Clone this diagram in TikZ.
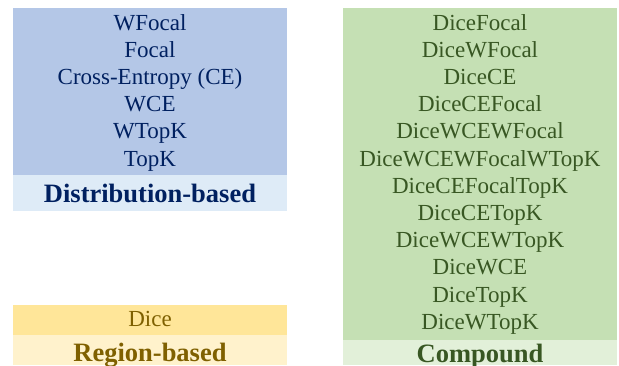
\documentclass[tikz,border=0pt]{standalone}
\usepackage{fontspec}
\setmainfont{Liberation Serif}
\definecolor{bluedark}{HTML}{B4C7E7}
\definecolor{bluelight}{HTML}{DEEBF7}
\definecolor{bluetext}{HTML}{002060}
\definecolor{greendark}{HTML}{C5E0B4}
\definecolor{greenlight}{HTML}{E2F0D9}
\definecolor{greentext}{HTML}{385723}
\definecolor{yellowdark}{HTML}{FFE699}
\definecolor{yellowlight}{HTML}{FFF2CC}
\definecolor{yellowtext}{HTML}{7F6000}
\tikzset{
  item/.style={anchor=base, inner sep=0pt, font=\fontsize{23}{27}\selectfont},
  catlabel/.style={anchor=base, inner sep=0pt, font=\fontsize{26.5}{30}\selectfont\bfseries},
}
\begin{document}
\begin{tikzpicture}[x=1pt,y=-1pt]
\clip (0,0) rectangle (619,365);
% distribution-based
\fill[bluedark] (13,8) rectangle (287,175);
\fill[bluelight] (13,175) rectangle (287,211);
\foreach \t [count=\i] in {WFocal,Focal,Cross-Entropy (CE),WCE,WTopK,TopK}{
  \node[item, text=bluetext] (d\i) at (150,{30+(\i-1)*27.2}) {\t};
}
\node[catlabel, text=bluetext] (dlabel) at (150,202) {Distribution-based};
% region-based
\fill[yellowdark] (13,305) rectangle (287,335);
\fill[yellowlight] (13,335) rectangle (287,365);
\node[item, text=yellowtext] (r1) at (150,326) {Dice};
\node[catlabel, text=yellowtext] (rlabel) at (150,361.5) {Region-based};
% compound
\fill[greendark] (343,8) rectangle (617,340);
\fill[greenlight] (343,340) rectangle (617,365);
\foreach \t [count=\i] in {DiceFocal,DiceWFocal,DiceCE,DiceCEFocal,DiceWCEWFocal,DiceWCEWFocalWTopK,DiceCEFocalTopK,DiceCETopK,DiceWCEWTopK,DiceWCE,DiceTopK,DiceWTopK}{
  \node[item, text=greentext] (c\i) at (480,{30+(\i-1)*27.2}) {\t};
}
\node[catlabel, text=greentext] (clabel) at (480,362.5) {Compound};
\end{tikzpicture}
\end{document}
